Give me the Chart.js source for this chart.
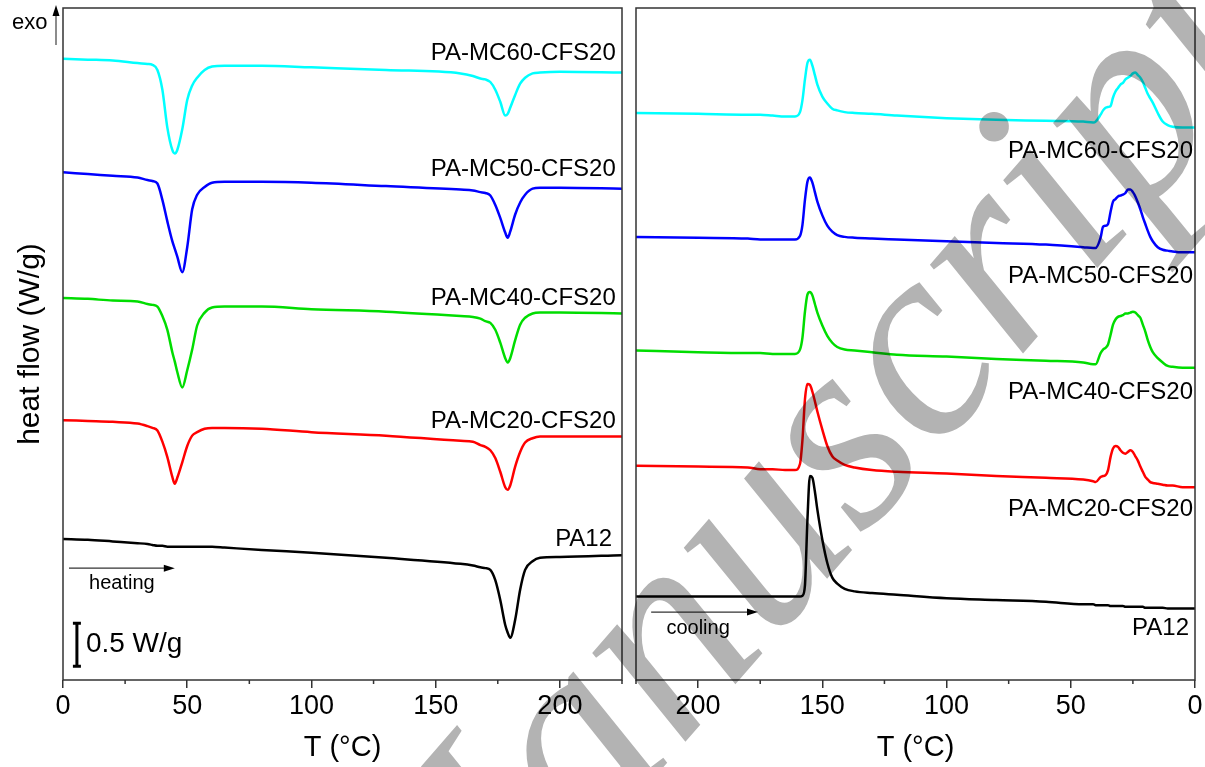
<!DOCTYPE html>
<html>
<head>
<meta charset="utf-8">
<script src="https://cdn.jsdelivr.net/npm/chart.js@4.4.0/dist/chart.umd.min.js"></script>
<style>
  body { margin: 0; background: #fff; }
  #wrap { position: relative; width: 1205px; height: 767px; overflow: hidden; }
  #heatChart { position: absolute; left: 0; top: 0; }
  #coolChart { position: absolute; left: 628px; top: 0; }
  #mark { position: absolute; left: 0; top: 0; mix-blend-mode: multiply; pointer-events: none; }
</style>
</head>
<body>
<div id="wrap">
  <canvas id="heatChart" width="630" height="767"></canvas>
  <canvas id="coolChart" width="577" height="767"></canvas>
  <canvas id="mark" width="1205" height="767"></canvas>
</div>
<script>
// samples, top to bottom
const sampleNames = ['PA-MC60-CFS20', 'PA-MC50-CFS20', 'PA-MC40-CFS20', 'PA-MC20-CFS20', 'PA12'];
const lineColors = ['#00ffff', '#0000ff', '#00dd00', '#ff0000', '#000000'];

// heating scan, T in °C, heat flow in W/g (curves shifted for clarity)
const heatT = [0, 10, 20, 30, 34, 36, 38, 40, 42, 44, 45, 46, 48, 50, 52, 54, 57, 60, 65, 80, 100, 130, 160, 165, 168, 170, 172, 174, 176, 178, 179, 180, 182, 184, 186, 189, 192, 200, 225];
const heatMC60 = [7.22, 7.21, 7.20, 7.17, 7.16, 7.15, 7.09, 6.86, 6.42, 6.16, 6.12, 6.16, 6.40, 6.74, 6.91, 7.00, 7.09, 7.13, 7.14, 7.14, 7.12, 7.09, 7.05, 7.02, 6.99, 6.98, 6.95, 6.86, 6.72, 6.56, 6.58, 6.65, 6.80, 6.93, 7.00, 7.05, 7.06, 7.07, 7.06];
const heatMC50 = [5.90, 5.88, 5.86, 5.84, 5.81, 5.80, 5.77, 5.58, 5.33, 5.10, 5.01, 4.92, 4.74, 5.03, 5.47, 5.64, 5.73, 5.78, 5.79, 5.79, 5.78, 5.74, 5.70, 5.69, 5.67, 5.66, 5.63, 5.52, 5.37, 5.20, 5.14, 5.21, 5.41, 5.55, 5.64, 5.71, 5.72, 5.72, 5.71];
const heatMC40 = [4.44, 4.43, 4.41, 4.40, 4.37, 4.36, 4.34, 4.23, 4.07, 3.81, 3.70, 3.58, 3.40, 3.60, 3.84, 4.12, 4.27, 4.33, 4.34, 4.34, 4.31, 4.28, 4.23, 4.22, 4.20, 4.17, 4.15, 4.07, 3.92, 3.74, 3.69, 3.74, 3.95, 4.13, 4.21, 4.26, 4.27, 4.27, 4.26];
const heatMC20 = [3.02, 3.01, 3.00, 2.98, 2.95, 2.93, 2.90, 2.77, 2.59, 2.36, 2.28, 2.35, 2.53, 2.72, 2.84, 2.88, 2.92, 2.93, 2.93, 2.92, 2.88, 2.84, 2.78, 2.77, 2.73, 2.71, 2.67, 2.58, 2.42, 2.24, 2.21, 2.26, 2.48, 2.65, 2.76, 2.81, 2.83, 2.83, 2.83];
const heatPA12 = [1.64, 1.63, 1.61, 1.59, 1.58, 1.57, 1.56, 1.56, 1.55, 1.55, 1.55, 1.55, 1.55, 1.55, 1.55, 1.55, 1.55, 1.55, 1.54, 1.51, 1.48, 1.42, 1.35, 1.33, 1.31, 1.30, 1.28, 1.16, 0.93, 0.64, 0.55, 0.49, 0.70, 1.05, 1.28, 1.38, 1.42, 1.43, 1.45];

// cooling scan, T from 225 down to 0 °C
const coolT = [225, 200, 180, 175, 170, 165, 161, 159, 158, 157, 156, 155, 154, 153, 152, 150, 148, 146, 144, 141, 137, 130, 120, 100, 80, 60, 45, 41, 40, 38, 37, 36, 35, 34, 33, 32, 31, 30, 29, 28, 27, 26, 25, 24, 23, 22, 21, 20, 19, 18, 17, 15, 13, 11, 9, 5, 0];
const coolMC60 = [6.59, 6.58, 6.57, 6.57, 6.56, 6.55, 6.55, 6.60, 6.74, 6.98, 7.17, 7.21, 7.14, 7.03, 6.92, 6.78, 6.70, 6.64, 6.62, 6.60, 6.59, 6.58, 6.56, 6.53, 6.51, 6.50, 6.49, 6.48, 6.49, 6.57, 6.62, 6.65, 6.66, 6.67, 6.77, 6.84, 6.88, 6.92, 6.94, 6.98, 7.00, 7.02, 7.05, 7.06, 7.03, 7.00, 6.95, 6.88, 6.81, 6.76, 6.71, 6.59, 6.49, 6.45, 6.43, 6.42, 6.42];
const coolMC50 = [5.15, 5.14, 5.13, 5.12, 5.12, 5.12, 5.12, 5.16, 5.29, 5.58, 5.79, 5.84, 5.78, 5.67, 5.56, 5.40, 5.28, 5.21, 5.17, 5.15, 5.14, 5.13, 5.12, 5.10, 5.08, 5.06, 5.03, 5.02, 5.02, 5.14, 5.27, 5.28, 5.30, 5.44, 5.56, 5.59, 5.62, 5.63, 5.64, 5.66, 5.70, 5.70, 5.67, 5.62, 5.55, 5.47, 5.38, 5.30, 5.22, 5.15, 5.10, 5.03, 5.00, 4.99, 4.98, 4.97, 4.97];
const coolMC40 = [3.83, 3.81, 3.80, 3.80, 3.79, 3.79, 3.79, 3.84, 3.98, 4.28, 4.48, 4.51, 4.47, 4.37, 4.27, 4.12, 4.00, 3.92, 3.87, 3.84, 3.83, 3.81, 3.78, 3.76, 3.73, 3.71, 3.69, 3.67, 3.67, 3.80, 3.84, 3.86, 3.90, 4.01, 4.13, 4.19, 4.22, 4.23, 4.24, 4.26, 4.26, 4.27, 4.28, 4.27, 4.24, 4.21, 4.13, 4.05, 3.95, 3.87, 3.81, 3.74, 3.69, 3.65, 3.64, 3.63, 3.63];
const coolMC20 = [2.49, 2.48, 2.47, 2.45, 2.45, 2.44, 2.44, 2.51, 2.79, 3.26, 3.44, 3.43, 3.35, 3.24, 3.12, 2.91, 2.72, 2.60, 2.55, 2.50, 2.47, 2.44, 2.42, 2.40, 2.37, 2.35, 2.33, 2.31, 2.30, 2.36, 2.37, 2.38, 2.44, 2.59, 2.69, 2.72, 2.71, 2.67, 2.64, 2.63, 2.65, 2.67, 2.65, 2.60, 2.55, 2.48, 2.42, 2.36, 2.33, 2.30, 2.29, 2.28, 2.27, 2.26, 2.26, 2.24, 2.24];
const coolPA12 = [0.97, 0.97, 0.97, 0.97, 0.97, 0.97, 0.97, 0.97, 0.98, 1.10, 1.86, 2.37, 2.35, 2.19, 1.98, 1.63, 1.36, 1.19, 1.12, 1.06, 1.03, 1.01, 0.99, 0.95, 0.93, 0.91, 0.88, 0.88, 0.87, 0.87, 0.87, 0.87, 0.87, 0.86, 0.86, 0.86, 0.86, 0.86, 0.86, 0.85, 0.85, 0.85, 0.85, 0.85, 0.85, 0.85, 0.85, 0.84, 0.84, 0.84, 0.84, 0.84, 0.84, 0.83, 0.83, 0.83, 0.83];

const heatSeries = [heatMC60, heatMC50, heatMC40, heatMC20, heatPA12];
const coolSeries = [coolMC60, coolMC50, coolMC40, coolMC20, coolPA12];

const minorTicks = [25, 75, 125, 175, 225];
const yMax = 7.81;       // W/g span of the plot area
const scaleBar = [0.16, 0.66]; // 0.5 W/g bar

const FONT = 'Arial, "Liberation Sans", sans-serif';

function makeDatasets(tValues, series) {
    return series.map((vals, i) => ({
        label: sampleNames[i],
        data: tValues.map((t, j) => ({ x: t, y: vals[j] })),
        borderColor: lineColors[i],
        borderWidth: 2.5,
        pointRadius: 0,
        fill: false,
        cubicInterpolationMode: 'monotone'
    }));
}

// frame, minor ticks, curve labels and other notes
const decor = {
    id: 'decor',
    afterDraw(chart, args, opts) {
        const ctx = chart.ctx;
        const a = chart.chartArea;
        const xs = chart.scales.x, ys = chart.scales.y;
        ctx.save();
        ctx.strokeStyle = '#333';
        ctx.lineWidth = 1.5;
        ctx.strokeRect(a.left, a.top, a.right - a.left, a.bottom - a.top);
        ctx.beginPath();
        minorTicks.forEach(v => {
            const px = xs.getPixelForValue(v);
            ctx.moveTo(px, a.bottom);
            ctx.lineTo(px, a.bottom + 4);
        });
        ctx.stroke();

        ctx.fillStyle = '#000';
        ctx.font = '24px ' + FONT;
        ctx.textAlign = 'right';
        ctx.textBaseline = 'middle';
        opts.labels.forEach(l => {
            ctx.fillText(l.text, xs.getPixelForValue(l.x), ys.getPixelForValue(l.y));
        });

        // direction arrow
        const ar = opts.arrow;
        const x1 = xs.getPixelForValue(ar.from), x2 = xs.getPixelForValue(ar.to);
        const ay = ys.getPixelForValue(ar.y);
        ctx.strokeStyle = '#333';
        ctx.lineWidth = 1.2;
        ctx.beginPath();
        ctx.moveTo(x1, ay);
        ctx.lineTo(x2 - 8, ay);
        ctx.stroke();
        ctx.beginPath();
        ctx.moveTo(x2, ay);
        ctx.lineTo(x2 - 11, ay - 3.5);
        ctx.lineTo(x2 - 11, ay + 3.5);
        ctx.closePath();
        ctx.fill();
        ctx.font = '20px ' + FONT;
        ctx.textAlign = 'center';
        ctx.fillText(ar.text, xs.getPixelForValue(ar.textX), ys.getPixelForValue(ar.textY));

        if (opts.exo) {
            // exo up arrow, left of the frame
            ctx.font = '22px ' + FONT;
            ctx.textAlign = 'left';
            ctx.fillText('exo', a.left - 51, a.top + 15);
            ctx.strokeStyle = '#666';
            ctx.lineWidth = 1.5;
            ctx.beginPath();
            ctx.moveTo(a.left - 7, a.top + 37);
            ctx.lineTo(a.left - 7, a.top + 6);
            ctx.stroke();
            ctx.beginPath();
            ctx.moveTo(a.left - 7, a.top - 3);
            ctx.lineTo(a.left - 10.5, a.top + 8);
            ctx.lineTo(a.left - 3.5, a.top + 8);
            ctx.closePath();
            ctx.fill();

            // 0.5 W/g scale bar
            const bx = xs.getPixelForValue(5.6);
            const b1 = ys.getPixelForValue(scaleBar[0]), b2 = ys.getPixelForValue(scaleBar[1]);
            ctx.strokeStyle = '#000';
            ctx.lineWidth = 3;
            ctx.beginPath();
            ctx.moveTo(bx, b1); ctx.lineTo(bx, b2);
            ctx.moveTo(bx - 4, b1); ctx.lineTo(bx + 4, b1);
            ctx.moveTo(bx - 4, b2); ctx.lineTo(bx + 4, b2);
            ctx.stroke();
            ctx.font = '28px ' + FONT;
            ctx.textAlign = 'left';
            ctx.fillText('0.5 W/g', bx + 9, (b1 + b2) / 2);
        }
        ctx.restore();
    }
};

function xAxis(reverse) {
    return {
        type: 'linear',
        min: 0,
        max: 225,
        reverse: reverse,
        afterFit: s => { s.height = 87; },
        ticks: {
            stepSize: 50,
            includeBounds: false,
            color: '#000',
            font: { family: FONT, size: 27 },
            padding: 2,
            maxRotation: 0
        },
        grid: { drawOnChartArea: false, tickLength: 8, color: '#333', lineWidth: 1.5 },
        border: { display: false },
        title: {
            display: true, text: 'T (°C)', color: '#000',
            font: { family: FONT, size: 29 }, padding: { top: 2, bottom: 2 }
        }
    };
}

new Chart(document.getElementById('heatChart'), {
    type: 'line',
    data: { datasets: makeDatasets(heatT, heatSeries) },
    options: {
        responsive: false,
        animation: false,
        layout: { padding: { left: 9, top: 8, right: 8, bottom: 0 } },
        plugins: {
            legend: { display: false },
            tooltip: { enabled: false },
            decor: {
                exo: true,
                labels: [
                    { text: sampleNames[0], x: 222.5, y: 7.28 },
                    { text: sampleNames[1], x: 222.5, y: 5.93 },
                    { text: sampleNames[2], x: 222.5, y: 4.44 },
                    { text: sampleNames[3], x: 222.5, y: 3.00 },
                    { text: sampleNames[4], x: 221, y: 1.63 }
                ],
                arrow: { from: 2.4, to: 45, y: 1.30, text: 'heating', textX: 23.7, textY: 1.12 }
            }
        },
        scales: {
            x: xAxis(false),
            y: {
                min: 0,
                max: yMax,
                afterFit: s => { s.width = 54; },
                ticks: { display: false },
                grid: { display: false },
                border: { display: false },
                title: { display: true, text: 'heat flow (W/g)', color: '#000', font: { family: FONT, size: 30 } }
            }
        }
    },
    plugins: [decor]
});

new Chart(document.getElementById('coolChart'), {
    type: 'line',
    data: { datasets: makeDatasets(coolT, coolSeries) },
    options: {
        responsive: false,
        animation: false,
        layout: { padding: { left: 8, top: 8, right: 10, bottom: 0 } },
        plugins: {
            legend: { display: false },
            tooltip: { enabled: false },
            decor: {
                exo: false,
                labels: [
                    { text: sampleNames[0], x: 0.8, y: 6.14 },
                    { text: sampleNames[1], x: 0.8, y: 4.69 },
                    { text: sampleNames[2], x: 0.8, y: 3.34 },
                    { text: sampleNames[3], x: 0.8, y: 1.98 },
                    { text: sampleNames[4], x: 2.4, y: 0.60 }
                ],
                arrow: { from: 218.9, to: 175.9, y: 0.79, text: 'cooling', textX: 200, textY: 0.60 }
            }
        },
        scales: {
            x: xAxis(true),
            y: { min: 0, max: yMax, display: false }
        }
    },
    plugins: [decor]
});

// grey "Manuscript" watermark laid over the figure
const mark = document.getElementById('mark').getContext('2d');
mark.save();
mark.translate(434, 1031);
mark.rotate(-49 * Math.PI / 180);
mark.font = 'italic 280px "Liberation Serif", serif';
mark.fillStyle = '#b3b3b3';
mark.fillText('Manuscript', 0, 0);
mark.restore();
</script>
</body>
</html>
